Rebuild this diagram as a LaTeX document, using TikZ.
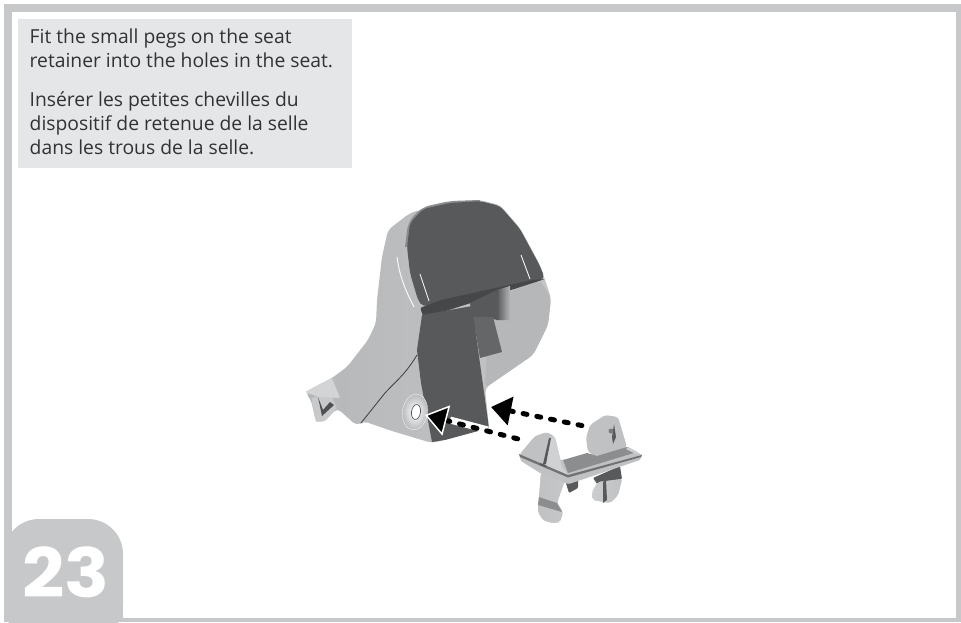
\documentclass[tikz,border=0pt]{standalone}
\usepackage{fontspec}
\setmainfont{Open Sans}
\newfontfamily\stepfont{Poppins Bold}
\usetikzlibrary{arrows.meta, positioning}
\definecolor{framegray}{RGB}{199,200,202}
\definecolor{notegray}{RGB}{229,230,232}
\definecolor{notetext}{RGB}{50,50,52}
\definecolor{seatmid}{RGB}{182,183,185}
\definecolor{seatlight}{RGB}{196,197,199}
\definecolor{seatdark}{RGB}{88,89,91}
\definecolor{seatlip}{RGB}{70,71,73}
\definecolor{partlight}{RGB}{192,193,195}
\definecolor{partmid}{RGB}{140,141,143}
\begin{document}
\begin{tikzpicture}[
    x=1pt, y=-1pt,
    note/.style={fill=notegray, anchor=north west, inner sep=0pt, minimum width=334pt, minimum height=149pt},
    notetxt/.style={anchor=north west, inner sep=0pt, align=left, text=notetext, font=\fontsize{19.3}{24}\selectfont},
    stepnum/.style={text=white, inner sep=0pt, font=\stepfont\fontsize{68}{68}\selectfont},
    flow/.style={dash pattern=on 4pt off 10pt, line cap=round, line width=5pt, draw=black},
    part/.style={fill=partlight, draw=none, rounded corners=2pt},
    shelf/.style={fill=seatdark, draw=none, rounded corners=1pt}
  ]
  \useasboundingbox (0,0) rectangle (961,622);
  % page frame
  \fill[framegray] (4,4) rectangle (961,622);
  \fill[white] (12,12) rectangle (956,618);
  \fill[framegray, rounded corners=35pt] (4,519) -- (123,519) -- (123,640) -- (4,640) -- cycle;
  \fill[framegray] (4,560) rectangle (123,622);
  \node[stepnum] (num) at (66,572.5) {\scalebox{1.09}[1]{23}};
  \node[note] (txt) at (18,19) {};
  \node[notetxt] (txtbody) at (29.5,29)
    {Fit the small pegs on the seat\\retainer into the holes in the seat.\\[15pt]
     Insérer les petites chevilles du\\dispositif de retenue de la selle\\dans les trous de la selle.};
  % seat body
  \path[left color=seatmid, right color=seatlight, rounded corners=5pt]
    (410,213) -- (450,202) -- (480,200) -- (500,205) -- (520,228) -- (540,265) -- (551,298) -- (548,325)
    -- (533,355) -- (485,388) -- (489,428) -- (432,443) -- (392,431) -- (363,421) -- (357,426) -- (337,408)
    -- (325,421) -- (316,422) -- (311,400) -- (305,392) -- (332,378) -- (347,367) -- (368,340) -- (376,323)
    -- (377,300) -- (382,257) -- (388,230) -- cycle;
  \fill[seatmid, rounded corners=5pt] (489,300) -- (540,280) -- (551,298) -- (548,325) -- (533,355) -- (485,388) -- cycle;
  % left clip
  \fill[seatmid!75!white, rounded corners=1pt] (311,398) -- (316,422) -- (325,421) -- (337,408) -- (332,397) -- (319,396) -- cycle;
  \fill[seatdark!90!black] (318,397) -- (322,416) -- (334,405) -- (330,402) -- (323,410) -- cycle;
  \fill[white!40!seatmid, rounded corners=1pt] (305,392) -- (332,378) -- (340,398) -- (319,397) -- cycle;
  % headrest panel and lip
  \draw[seatdark!45!seatmid, line width=4pt, rounded corners=7pt] (407,247) -- (410,223) -- (423,209) -- (450,203) -- (480,202);
  \fill[seatdark, rounded corners=5pt] (407,247) -- (410,223) -- (423,209) -- (450,203) -- (480,201) -- (500,206)
    -- (520,229) -- (540,266) -- (545,279) -- (505,289) -- (423,307) -- (418,300) -- (410,273) -- cycle;
  \fill[seatlip, rounded corners=2pt] (420,308) -- (441,300) -- (532,280) -- (545,279) -- (505,292) -- (424,318) -- cycle;
  \draw[white!85!seatmid, line width=.9pt] (420,274) -- (429,301);
  \draw[white!85!seatmid, line width=.9pt] (521,255) -- (530,279);
  \draw[white!90!seatmid, line width=1pt] (397,257) .. controls (400,280) and (408,295) .. (414,307);
  % shadow under the lip
  \shade[left color=seatdark, right color=seatmid] (497,290) -- (510,286) -- (510,320) -- (497,320) -- cycle;
  \fill[seatdark] (470,303) -- (497,290) -- (497,320) -- (490,318) -- (472,318) -- cycle;
  \fill[seatdark!92!white] (473,317) -- (493,317) -- (502,352) -- (480,358) -- cycle;
  % strap
  \fill[seatdark] (422,315) -- (472,306) -- (489,428) -- (445,440) -- (432,442) -- (421,383) -- (417,350) -- cycle;
  \draw[seatdark!70!black, line width=.8pt] (417,355) .. controls (405,375) and (395,382) .. (385,393) -- (361,423);
  % hole in the seat
  \shade[inner color=white, outer color=seatmid, rotate around={-8:(415,412)}] (415,412) ellipse (12.5 and 18);
  \draw[white, line width=.3pt, rotate around={-8:(415,412)}] (415,412) ellipse (12.5 and 18);
  \draw[seatdark, fill=white, line width=.7pt, rotate around={-8:(416,412)}] (416,412) ellipse (4.5 and 7.5);
  % retainer legs
  \fill[shelf] (565,480) -- (569,493) -- (578,488) -- (578,478) -- cycle;
  \fill[shelf] (593,478) -- (620,466) -- (622,479) -- (598,485) -- cycle;
  \path[part, left color=partlight, right color=partlight!90!white] (541,473) -- (539,497) -- (538,512) -- (543,520) -- (552,523) -- (560,522) -- (563,512)
    -- (557,503) -- (565,480) -- cycle;
  \fill[partmid] (539,497) -- (557,503) -- (562,512) -- (538,505) -- cycle;
  \path[part, left color=partlight!80!white, right color=partlight] (598,482) -- (592,492) -- (593,500) -- (610,503) -- (618,495) -- (622,479) -- cycle;
  \fill[seatdark] (603,482) -- (606,480) -- (607,500) -- (603,503) -- cycle;
  % retainer wings, bar, flange
  \fill[partlight, rounded corners=3pt] (586,438) -- (590,425) -- (605,415) -- (618,417) -- (627,447) -- (600,458) -- (588,452) -- cycle;
  \fill[partlight, rounded corners=1pt] (519,454) -- (521,461) -- (540,473) -- (565,483) -- (569,484) -- (640,460) -- (642,455) -- (628,447) -- (563,460) -- cycle;
  \fill[partmid] (563,460) -- (587,453) -- (597,456) -- (627,447) -- (637,452) -- (568,473) -- cycle;
  \fill[partlight!80!white] (628,447) -- (642,455) -- (636,454) -- (626,449) -- cycle;
  \fill[seatdark] (614,424) -- (616,437) -- (613,444) -- (612,437) -- cycle;
  \fill[seatdark!80!white] (611,431) circle (2.5);
  \fill[partlight, rounded corners=3pt] (519,455) -- (535,436) -- (547,432) -- (555,437) -- (562,467) -- (568,475) -- (541,467) -- cycle;
  \fill[partlight!75!white] (543,465) -- (550,438) -- (555,437) -- (562,467) -- (568,475) -- cycle;
  \fill[seatdark] (549,438) -- (551,438) -- (546,464) -- (543,464) -- cycle;
  \fill[partmid!80!black] (519,454) -- (568,475) -- (642,455) -- (641,457) -- (568,477.5) -- (520,457) -- cycle;
  \fill[seatdark] (540,463) -- (546,465) -- (546,467) -- (540,465) -- cycle;
  % arrows
  \coordinate (holetip) at (425,415);
  \coordinate (seattip) at (491,407);
  \coordinate (frontpeg) at (526,441);
  \coordinate (rearpeg) at (584,426);
  \draw[flow, {Triangle[length=20pt, width=28pt]}-] (seattip) -- (rearpeg);
  \draw[white, line width=7pt] (450,420) -- (488,430);
  \draw[flow, {Triangle[length=22pt, width=31pt, fill=black, color=white, line width=1.5pt]}-] (holetip) -- (frontpeg);
\end{tikzpicture}
\end{document}
